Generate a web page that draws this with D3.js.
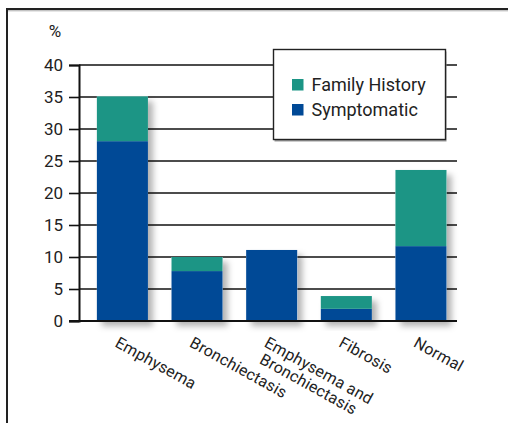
<!DOCTYPE html>
<html>
<head>
<meta charset="utf-8">
<script src="https://cdn.jsdelivr.net/npm/d3@7/dist/d3.min.js"></script>
<style>
  html, body { margin: 0; padding: 0; background: #fff; }
  svg { display: block; font-family: Roboto, "Noto Sans", sans-serif; }
</style>
</head>
<body>
<script>
// Share of patients per CT finding, split by reason for screening
const categories = ["Emphysema", "Bronchiectasis", "Emphysema and\nBronchiectasis", "Fibrosis", "Normal"];
const symptomatic = [28.1, 7.8, 11.1, 1.9, 11.7];
const familyHistory = [7.0, 2.2, 0, 2.0, 11.9];
const yTicks = [0, 5, 10, 15, 20, 25, 30, 35, 40];
const seriesNames = ["Family History", "Symptomatic"];
const seriesColors = { "Family History": "#1c9585", "Symptomatic": "#004996" };

const W = 508, H = 423;
const svg = d3.select("body").append("svg").attr("width", W).attr("height", H);

const defs = svg.append("defs");
const shadow = defs.append("filter").attr("id", "barShadow")
  .attr("x", "-20%").attr("y", "-20%").attr("width", "160%").attr("height", "160%");
shadow.append("feDropShadow").attr("dx", 5).attr("dy", 5).attr("stdDeviation", 3)
  .attr("flood-color", "#000").attr("flood-opacity", 0.3);

// outer frame (continues past the right and bottom edges)
svg.append("rect").attr("x", 7).attr("y", 9).attr("width", 600).attr("height", 600)
  .attr("fill", "none").attr("stroke", "#222").attr("stroke-width", 2);
svg.append("line").attr("x1", 8).attr("x2", W).attr("y1", 10.8).attr("y2", 10.8)
  .attr("stroke", "#aaa").attr("stroke-width", 1);

const x = d3.scaleBand().domain(categories).range([79, 457])
  .paddingInner(0.316).paddingOuter(0.19).align(0.63);
const y = d3.scaleLinear().domain([0, 40]).range([321, 65]);

// gridlines
svg.append("g").selectAll("line").data(yTicks.filter(d => d > 0)).join("line")
  .attr("x1", 79).attr("x2", 457)
  .attr("y1", d => y(d)).attr("y2", d => y(d))
  .attr("stroke", "#111").attr("stroke-width", 1.4);

// y axis
const yAxis = svg.append("g").attr("transform", "translate(79,0)")
  .call(d3.axisLeft(y).tickValues(yTicks).tickSize(10).tickPadding(6));
yAxis.select(".domain").attr("stroke", "#111").attr("stroke-width", 2);
yAxis.selectAll(".tick line").attr("stroke", "#111").attr("stroke-width", 1.6);
yAxis.selectAll(".tick text").attr("font-size", 17).attr("fill", "#222")
  .attr("font-family", "Roboto, sans-serif");

svg.append("text").attr("x", 55).attr("y", 37).attr("text-anchor", "middle")
  .attr("font-size", 17).attr("fill", "#222").text("%");

// stacked bars
const rows = categories.map((c, i) => ({ cat: c, "Symptomatic": symptomatic[i], "Family History": familyHistory[i] }));
const stack = d3.stack().keys(["Symptomatic", "Family History"])(rows);

const barG = svg.append("g");
// shadow under each whole stack
barG.selectAll("rect.sh").data(rows).join("rect").attr("class", "sh")
  .attr("x", d => x(d.cat)).attr("width", x.bandwidth())
  .attr("y", d => y(d["Symptomatic"] + d["Family History"]))
  .attr("height", d => y(0) - y(d["Symptomatic"] + d["Family History"]))
  .attr("fill", "#fff").attr("filter", "url(#barShadow)");
stack.forEach(layer => {
  barG.append("g").attr("fill", seriesColors[layer.key])
    .selectAll("rect").data(layer.filter(d => d[1] > d[0])).join("rect")
    .attr("x", d => x(d.data.cat)).attr("width", x.bandwidth())
    .attr("y", d => y(d[1])).attr("height", d => y(d[0]) - y(d[1]));
});

// baseline
svg.append("line").attr("x1", 69).attr("x2", 457).attr("y1", y(0)).attr("y2", y(0))
  .attr("stroke", "#111").attr("stroke-width", 2);

// rotated category labels
const angle = 29;
const labels = svg.append("g");
categories.forEach(c => {
  const cx = x(c) + x.bandwidth() / 2 - 8.5;
  const t = labels.append("text")
    .attr("transform", `translate(${cx},346) rotate(${angle})`)
    .attr("font-size", 16).attr("letter-spacing", 0.2).attr("fill", "#222");
  c.split("\n").forEach((line, i) => {
    t.append("tspan").attr("x", i === 0 ? 0 : 4).attr("dy", i === 0 ? 0 : 16.8).text(line);
  });
});

// legend
const lg = svg.append("g").attr("transform", "translate(273.5,49.5)");
lg.append("rect").attr("x", 1).attr("y", 2).attr("width", 172).attr("height", 90)
  .attr("fill", "#999");
lg.append("rect").attr("width", 172).attr("height", 90)
  .attr("fill", "#fff").attr("stroke", "#222").attr("stroke-width", 1.4);
seriesNames.forEach((s, i) => {
  const gy = 35 + i * 25;
  lg.append("rect").attr("x", 18.5).attr("y", gy - 5.5).attr("width", 11.5).attr("height", 11.5)
    .attr("fill", seriesColors[s]);
  lg.append("text").attr("x", 38).attr("y", gy + 6.5).attr("font-size", 18)
    .attr("fill", "#222").text(s);
});
</script>
</body>
</html>
